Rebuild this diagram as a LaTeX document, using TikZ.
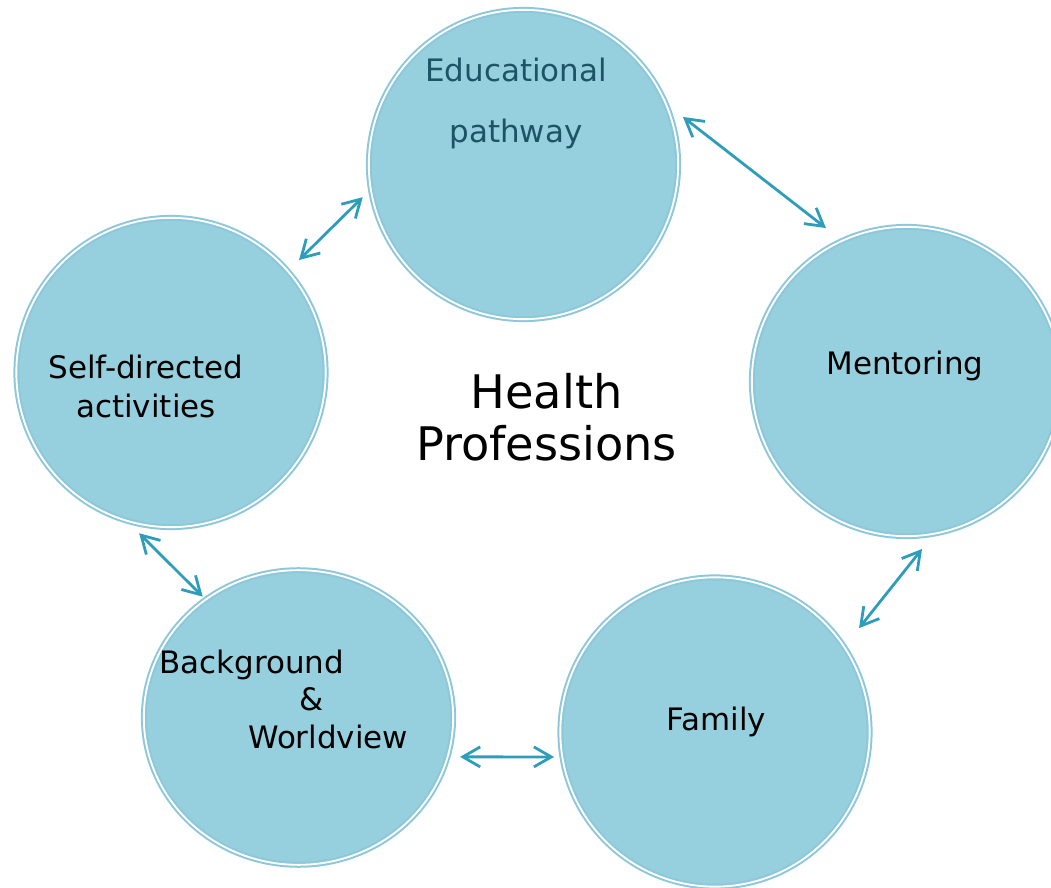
\documentclass[tikz,border=0pt]{standalone}
\usepackage{fontspec}
\setmainfont{DejaVu Sans}
\usetikzlibrary{arrows.meta,calc,shapes.geometric}
\definecolor{bubblefill}{HTML}{96CFDD}
\definecolor{ringc}{HTML}{8CC8DA}
\definecolor{linkc}{HTML}{2E9DBA}
\definecolor{edutext}{HTML}{1D5366}
\tikzset{
  bubble/.style={circle,fill=bubblefill,draw=ringc,double=white,double distance=1.4pt,line width=1.5pt,minimum size=232pt,inner sep=0pt},
  link/.style={draw=linkc,line width=2.1pt,{Straight Barb[length=13pt,width=15pt]}-{Straight Barb[length=13pt,width=15pt]}},
  lbl/.style={font=\fontsize{23.2}{28.5}\selectfont,inner sep=0pt,align=center,anchor=base}
}
\begin{document}
\begin{tikzpicture}[x=0.75pt,y=0.75pt]
        \useasboundingbox (0,0) rectangle (1051,-888);
        \node[bubble] (edu) at (523.5,-164.5) {};
        \node[bubble] (ment) at (906.5,-381.5) {};
        \node[bubble] (fam) at (715,-732) {};
        \node[bubble,ellipse,minimum width=232pt,minimum height=221pt] (back) at (298.5,-717.5) {};
        \node[bubble] (self) at (171,-372.5) {};
        \draw[link] ($(edu)+(16.6:166.4)$) -- ($(ment)+(117.7:173.3)$);
        \draw[link] ($(ment)+(-84.7:168.2)$) -- ($(fam)+(35.8:177.6)$);
        \draw[link] ($(back)+(-13.7:166.3)$) -- ($(fam)+(-171.2:162.9)$);
        \draw[link] ($(self)+(-101.2:163.9)$) -- ($(back)+(128.4:154.2)$);
        \draw[link] ($(self)+(41.3:170.4)$) -- ($(edu)+(-168.5:164.1)$);
        \node[lbl,text=edutext,font=\fontsize{23.2}{45.75}\selectfont] (edutxt) at (516,-143) {Educational\\pathway};
        \node[lbl] (menttxt) at (905,-374) {Mentoring};
        \node[lbl] (famtxt) at (716.5,-730) {Family};
        \node[lbl,font=\fontsize{23.2}{29.25}\selectfont] (selftxt) at (146,-417) {Self-directed\\activities};
        \node[lbl,align=left,anchor=base west,font=\fontsize{23.2}{28.1}\selectfont] (backtxt) at (159,-748) {Background\\\hspace*{105pt}\&\\\hspace*{66.75pt}Worldview};
        \node[lbl,font=\fontsize{34.7}{39}\selectfont] (healthtxt) at (546.5,-460) {Health\\Professions};
\end{tikzpicture}
\end{document}
